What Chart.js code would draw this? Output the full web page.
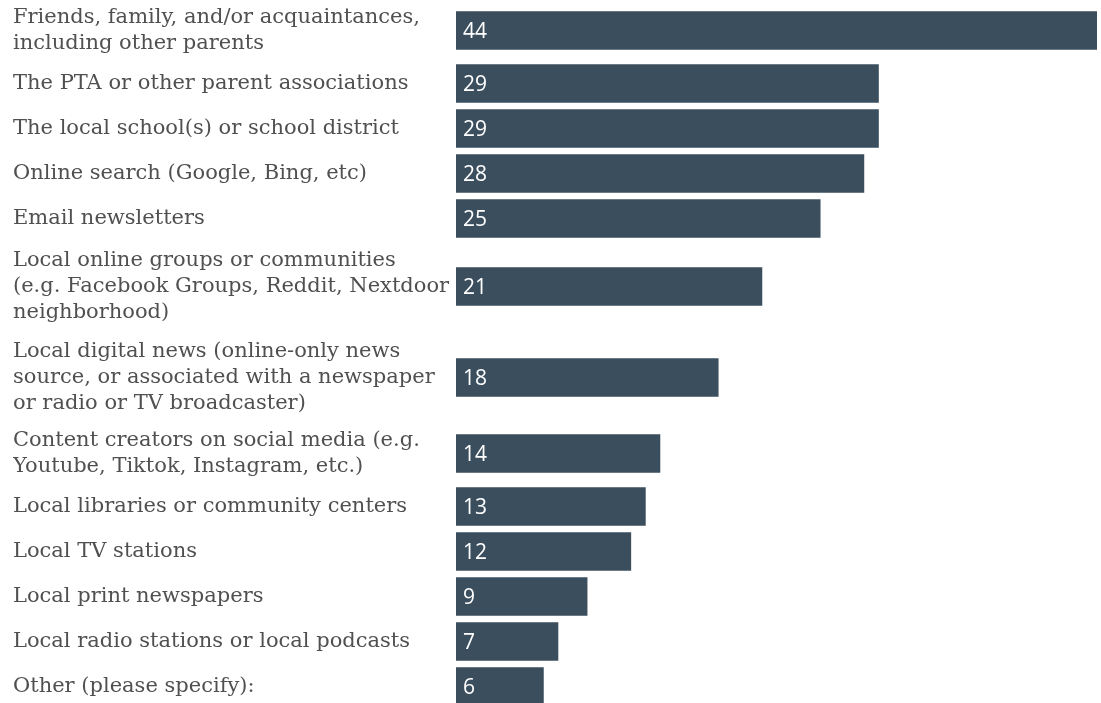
<!DOCTYPE html>
<html>
<head>
<meta charset="utf-8">
<script src="https://cdn.jsdelivr.net/npm/chart.js@4/dist/chart.umd.min.js"></script>
<style>
  html, body { margin: 0; padding: 0; background: #fff; }
  #wrap { width: 1101px; height: 703px; }
</style>
</head>
<body>
<div id="wrap"><canvas id="grafik"></canvas></div>
<script>
// kategori (tiap elemen = baris teks label)
const kategori = [
    ["Friends, family, and/or acquaintances,", "including other parents"],
    ["The PTA or other parent associations"],
    ["The local school(s) or school district"],
    ["Online search (Google, Bing, etc)"],
    ["Email newsletters"],
    ["Local online groups or communities", "(e.g. Facebook Groups, Reddit, Nextdoor", "neighborhood)"],
    ["Local digital news (online-only news", "source, or associated with a newspaper", "or radio or TV broadcaster)"],
    ["Content creators on social media (e.g.", "Youtube, Tiktok, Instagram, etc.)"],
    ["Local libraries or community centers"],
    ["Local TV stations"],
    ["Local print newspapers"],
    ["Local radio stations or local podcasts"],
    ["Other (please specify):"]
];
const nilai = [44, 29, 29, 28, 25, 21, 18, 14, 13, 12, 9, 7, 6];

// tinggi baris (px) menurut jumlah baris teks label
const tinggiBaris = { 1: 45, 2: 61, 3: 91 };

// posisi tengah tiap baris, dihitung kumulatif
const posisi = [];
let atas = 0;
kategori.forEach(baris => {
    const h = tinggiBaris[baris.length];
    posisi.push(atas + h / 2);
    atas += h;
});

const warnaBar = "#3b4e5e";

// tulis angka di dalam bar
const labelNilai = {
    id: "labelNilai",
    afterDatasetsDraw(chart) {
        const ctx = chart.ctx;
        const meta = chart.getDatasetMeta(0);
        ctx.save();
        ctx.fillStyle = "#ffffff";
        ctx.font = "21px 'Open Sans', sans-serif";
        ctx.textAlign = "left";
        ctx.textBaseline = "middle";
        meta.data.forEach((bar, i) => {
            ctx.fillText(String(nilai[i]), bar.base + 7, bar.y + 1.5);
        });
        ctx.restore();
    }
};

new Chart(document.getElementById("grafik"), {
    type: "bar",
    data: {
        datasets: [{
            data: nilai.map((v, i) => ({ x: v, y: posisi[i] })),
            backgroundColor: warnaBar,
            barThickness: 38,
            borderWidth: 0
        }]
    },
    options: {
        indexAxis: "y",
        responsive: true,
        maintainAspectRatio: false,
        animation: false,
        layout: { padding: { left: 13, right: 4, top: 0, bottom: 0 } },
        plugins: {
            legend: { display: false },
            tooltip: { enabled: false }
        },
        scales: {
            x: {
                type: "linear",
                display: false,
                min: 0,
                max: 44
            },
            y: {
                type: "linear",
                reverse: true,
                offset: false,
                min: 0,
                max: 703,
                grid: { display: false },
                border: { display: false },
                afterBuildTicks: axis => {
                    axis.ticks = posisi.map(p => ({ value: p }));
                },
                afterFit: axis => {
                    axis.width = 443;
                    axis.paddingTop = 0;
                    axis.paddingBottom = 0;
                },
                ticks: {
                    autoSkip: false,
                    crossAlign: "far",
                    padding: 0,
                    color: "#505050",
                    font: { family: "'DejaVu Serif', serif", size: 21, lineHeight: "26px" },
                    callback: (val, idx) => kategori[idx]
                }
            }
        }
    },
    plugins: [labelNilai]
});
</script>
</body>
</html>
